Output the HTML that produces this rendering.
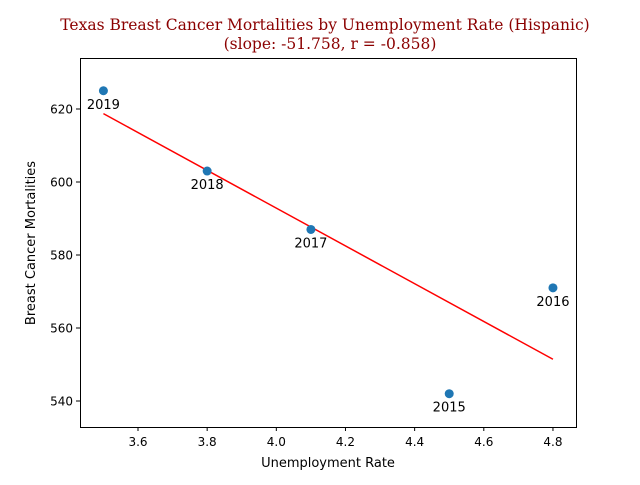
<!DOCTYPE html>
<html><head><meta charset="utf-8"><style>
body{margin:0;background:#fff}
svg text{font-family:"DejaVu Sans","Liberation Sans",sans-serif}
</style></head><body>
<svg id="c" width="640" height="480" xmlns="http://www.w3.org/2000/svg">
<rect width="640" height="480" fill="#fff"/>
<text x="325" y="30" text-anchor="middle" font-size="15.5" fill="#8b0000" style="font-family:'DejaVu Serif','Liberation Serif',serif">Texas Breast Cancer Mortalities by Unemployment Rate (Hispanic)</text>
<text x="330" y="49" text-anchor="middle" font-size="15.5" fill="#8b0000" style="font-family:'DejaVu Serif','Liberation Serif',serif">(slope: -51.758, r = -0.858)</text>
<g id="ticks"></g>
<g id="marks"></g>
<rect x="80.5" y="58.5" width="496" height="369" fill="none" stroke="#000" stroke-width="1"/>
<text x="328" y="467" text-anchor="middle" font-size="13">Unemployment Rate</text>
<text transform="translate(35,243) rotate(-90)" text-anchor="middle" font-size="13">Breast Cancer Mortalities</text>
</svg>
<script>
const years=[2015,2016,2017,2018,2019];
const rates=[4.5,4.8,4.1,3.8,3.5];
const deaths=[542,571,587,603,625];
const xTicks=[3.6,3.8,4.0,4.2,4.4,4.6,4.8];
const yTicks=[540,560,580,600,620];
const ns="http://www.w3.org/2000/svg";
const X=v=>138+(v-3.6)*345.8;
const Y=v=>401-(v-540)*3.65;
function mk(t,a,p){const e=document.createElementNS(ns,t);for(const k in a)e.setAttribute(k,a[k]);p.appendChild(e);return e;}
const tg=document.getElementById('ticks'),mg=document.getElementById('marks');
xTicks.forEach(v=>{
 const l=mk('line',{x1:X(v),x2:X(v),y1:427,y2:431,stroke:'#000'},tg);
 
 
 const t=mk('text',{x:X(v),y:446,'text-anchor':'middle','font-size':12},tg);t.textContent=v.toFixed(1);
 
 
});
yTicks.forEach(v=>{
 const l=mk('line',{x1:76,x2:80,y1:Y(v),y2:Y(v),stroke:'#000'},tg);
 
 
 const t=mk('text',{x:73,y:Y(v)+4.5,'text-anchor':'end','font-size':12},tg);t.textContent=v;
 
 
});
const n=rates.length,mx=rates.reduce((a,b)=>a+b)/n,my=deaths.reduce((a,b)=>a+b)/n;
let sxy=0,sxx=0;rates.forEach((x,i)=>{sxy+=(x-mx)*(deaths[i]-my);sxx+=(x-mx)**2;});
const slope=sxy/sxx,ic=my-slope*mx;
const x0=Math.min(...rates),x1=Math.max(...rates);
const ln=mk('line',{x1:X(x0),y1:Y(ic+slope*x0),x2:X(x1),y2:Y(ic+slope*x1),stroke:'red','stroke-width':1.5},mg);


rates.forEach((x,i)=>{
 const c=mk('circle',{cx:X(x),cy:Y(deaths[i]),r:4.5,fill:'#1f77b4'},mg);
 
 
 const t=mk('text',{x:X(x),y:Y(deaths[i])+18,'text-anchor':'middle','font-size':13},mg);t.textContent=years[i];
 
 
});
</script>
</body></html>
